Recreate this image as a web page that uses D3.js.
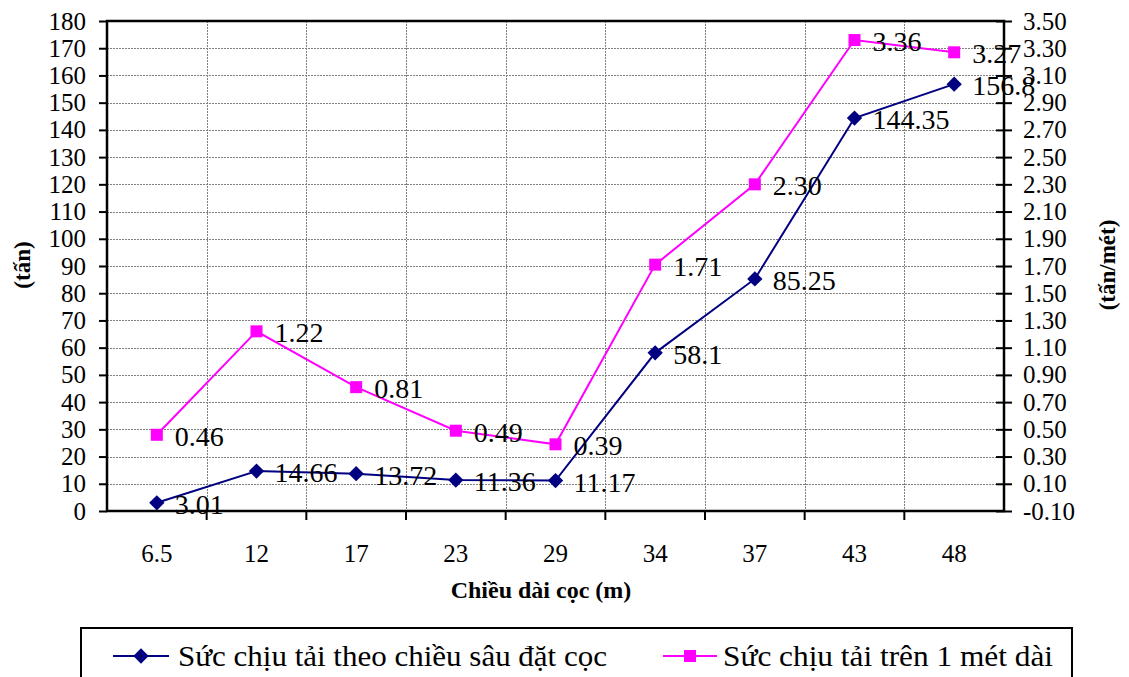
<!DOCTYPE html>
<html>
<head>
<meta charset="utf-8">
<script src="https://cdn.jsdelivr.net/npm/d3@7/dist/d3.min.js"></script>
<style>
  html, body { margin: 0; padding: 0; background: #fff; }
  svg { display: block; font-family: "Liberation Serif", "Times New Roman", serif; }
</style>
</head>
<body>
<svg id="chart" width="1129" height="677"></svg>
<script>
// Chiều dài cọc (m)
const categories = ["6.5", "12", "17", "23", "29", "34", "37", "43", "48"];
// Sức chịu tải theo chiều sâu đặt cọc (tấn)
const loadByDepth = [3.01, 14.66, 13.72, 11.36, 11.17, 58.1, 85.25, 144.35, 156.8];
// Sức chịu tải trên 1 mét dài (tấn/mét)
const loadPerMetre = [0.46, 1.22, 0.81, 0.49, 0.39, 1.71, 2.30, 3.36, 3.27];
const loadPerMetreLabels = ["0.46", "1.22", "0.81", "0.49", "0.39", "1.71", "2.30", "3.36", "3.27"];

const leftTicks = [0, 10, 20, 30, 40, 50, 60, 70, 80, 90, 100, 110, 120, 130, 140, 150, 160, 170, 180];
const rightTicks = [-0.10, 0.10, 0.30, 0.50, 0.70, 0.90, 1.10, 1.30, 1.50, 1.70, 1.90, 2.10, 2.30, 2.50, 2.70, 2.90, 3.10, 3.30, 3.50];

const seriesNames = ["Sức chịu tải theo chiều sâu đặt cọc", "Sức chịu tải trên 1 mét dài"];
const navy = "#000080", magenta = "#FF00FF";
const FONT = "Liberation Serif";

const svg = d3.select("#chart");
const plot = { left: 107, right: 1004, top: 21, bottom: 511 };

const x = d3.scaleBand().domain(categories).range([plot.left, plot.right]);
const yL = d3.scaleLinear().domain([0, 180]).range([plot.bottom, plot.top]);
const yR = d3.scaleLinear().domain([-0.1, 3.5]).range([plot.bottom, plot.top]);
const cx = c => x(c) + x.bandwidth() / 2;

// gridlines
const grid = svg.append("g").attr("stroke", "#808080").attr("stroke-width", 1)
  .attr("stroke-dasharray", "2,1").attr("shape-rendering", "crispEdges");
grid.selectAll("line.h").data(leftTicks.slice(1, -1)).join("line")
  .attr("x1", plot.left).attr("x2", plot.right)
  .attr("y1", d => Math.round(yL(d)) + 0.5).attr("y2", d => Math.round(yL(d)) + 0.5);
grid.selectAll("line.v").data(categories.slice(1)).join("line")
  .attr("y1", plot.top).attr("y2", plot.bottom)
  .attr("x1", d => Math.round(x(d)) + 0.5).attr("x2", d => Math.round(x(d)) + 0.5);

// left axis
const axL = svg.append("g").attr("transform", `translate(${plot.left},0)`)
  .call(d3.axisLeft(yL).tickValues(leftTicks).tickSize(8).tickPadding(13).tickSizeOuter(0));
axL.select(".domain").remove();
axL.selectAll("line").attr("stroke", "#000").attr("stroke-width", 2);
axL.selectAll("text").attr("font-size", 25).attr("font-family", FONT).attr("fill", "#000");

// right axis (ticks cross the axis line); plain hyphen for negatives
const axR = svg.append("g").attr("transform", `translate(${plot.right},0)`)
  .call(d3.axisRight(yR).tickValues(rightTicks).tickFormat(d => d.toFixed(2)).tickSize(8).tickPadding(11).tickSizeOuter(0));
axR.select(".domain").remove();
axR.selectAll("line").attr("x1", -8).attr("stroke", "#000").attr("stroke-width", 2);
axR.selectAll("text").attr("font-size", 25).attr("font-family", FONT).attr("fill", "#000");

// bottom axis: ticks at category boundaries
const axB = svg.append("g").attr("transform", `translate(0,${plot.bottom})`)
  .call(d3.axisBottom(x).tickSize(0).tickPadding(33));
axB.select(".domain").remove();
axB.selectAll("text").attr("font-size", 25).attr("font-family", FONT).attr("fill", "#000");
svg.append("g").selectAll("line").data(categories.slice(1)).join("line")
  .attr("x1", d => x(d)).attr("x2", d => x(d))
  .attr("y1", plot.bottom).attr("y2", plot.bottom + 9)
  .attr("stroke", "#000").attr("stroke-width", 2);

// plot frame
svg.append("rect").attr("x", plot.left).attr("y", plot.top)
  .attr("width", plot.right - plot.left).attr("height", plot.bottom - plot.top)
  .attr("fill", "none").attr("stroke", "#000").attr("stroke-width", 2.5);

// axis titles
svg.append("text").attr("x", 541).attr("y", 598).attr("text-anchor", "middle")
  .attr("font-size", 24).attr("font-weight", "bold").text("Chiều dài cọc (m)");
svg.append("text").attr("transform", "translate(30,265) rotate(-90)").attr("text-anchor", "middle")
  .attr("font-size", 23).attr("font-weight", "bold").text("(tấn)");
svg.append("text").attr("transform", "translate(1115,265) rotate(-90)").attr("text-anchor", "middle")
  .attr("font-size", 23).attr("font-weight", "bold").text("(tấn/mét)");

// series lines
const lineL = d3.line().x((d, i) => cx(categories[i])).y(d => yL(d));
const lineR = d3.line().x((d, i) => cx(categories[i])).y(d => yR(d));
svg.append("path").datum(loadPerMetre).attr("d", lineR)
  .attr("fill", "none").attr("stroke", magenta).attr("stroke-width", 2);
svg.append("path").datum(loadByDepth).attr("d", lineL)
  .attr("fill", "none").attr("stroke", navy).attr("stroke-width", 2);

// markers
const diamond = d3.symbol().type(d3.symbolDiamond2).size(150);
svg.append("g").selectAll("rect").data(loadPerMetre).join("rect")
  .attr("x", (d, i) => cx(categories[i]) - 6).attr("y", d => yR(d) - 6)
  .attr("width", 12).attr("height", 12).attr("fill", magenta);
svg.append("g").selectAll("path").data(loadByDepth).join("path")
  .attr("d", diamond)
  .attr("transform", (d, i) => `translate(${cx(categories[i])},${yL(d)})`)
  .attr("fill", navy);

// data labels
svg.append("g").selectAll("text").data(loadPerMetre).join("text")
  .attr("x", (d, i) => cx(categories[i]) + 18).attr("y", d => yR(d) + 11)
  .attr("font-size", 28).attr("fill", "#000")
  .text((d, i) => loadPerMetreLabels[i]);
svg.append("g").selectAll("text").data(loadByDepth).join("text")
  .attr("x", (d, i) => cx(categories[i]) + 18).attr("y", d => yL(d) + 11)
  .attr("font-size", 28).attr("fill", "#000")
  .text(d => String(d));

// legend
const lg = svg.append("g");
lg.append("rect").attr("x", 81).attr("y", 628).attr("width", 991).attr("height", 60)
  .attr("fill", "#fff").attr("stroke", "#000").attr("stroke-width", 2);
const legendItems = [
  { name: seriesNames[0], color: navy, x0: 113, x1: 169, tx: 178, tw: 429, marker: "diamond" },
  { name: seriesNames[1], color: magenta, x0: 663, x1: 717, tx: 723, tw: 330, marker: "square" }
];
legendItems.forEach(it => {
  const my = 656;
  lg.append("line").attr("x1", it.x0).attr("x2", it.x1).attr("y1", my).attr("y2", my)
    .attr("stroke", it.color).attr("stroke-width", 2);
  const mx = (it.x0 + it.x1) / 2;
  if (it.marker === "diamond") {
    lg.append("path").attr("d", diamond).attr("transform", `translate(${mx},${my})`).attr("fill", it.color);
  } else {
    lg.append("rect").attr("x", mx - 6).attr("y", my - 6).attr("width", 12).attr("height", 12).attr("fill", it.color);
  }
  lg.append("text").attr("x", it.tx).attr("y", 666).attr("font-size", 29)
    .attr("textLength", it.tw).attr("lengthAdjust", "spacingAndGlyphs")
    .text(it.name);
});
</script>
</body>
</html>
